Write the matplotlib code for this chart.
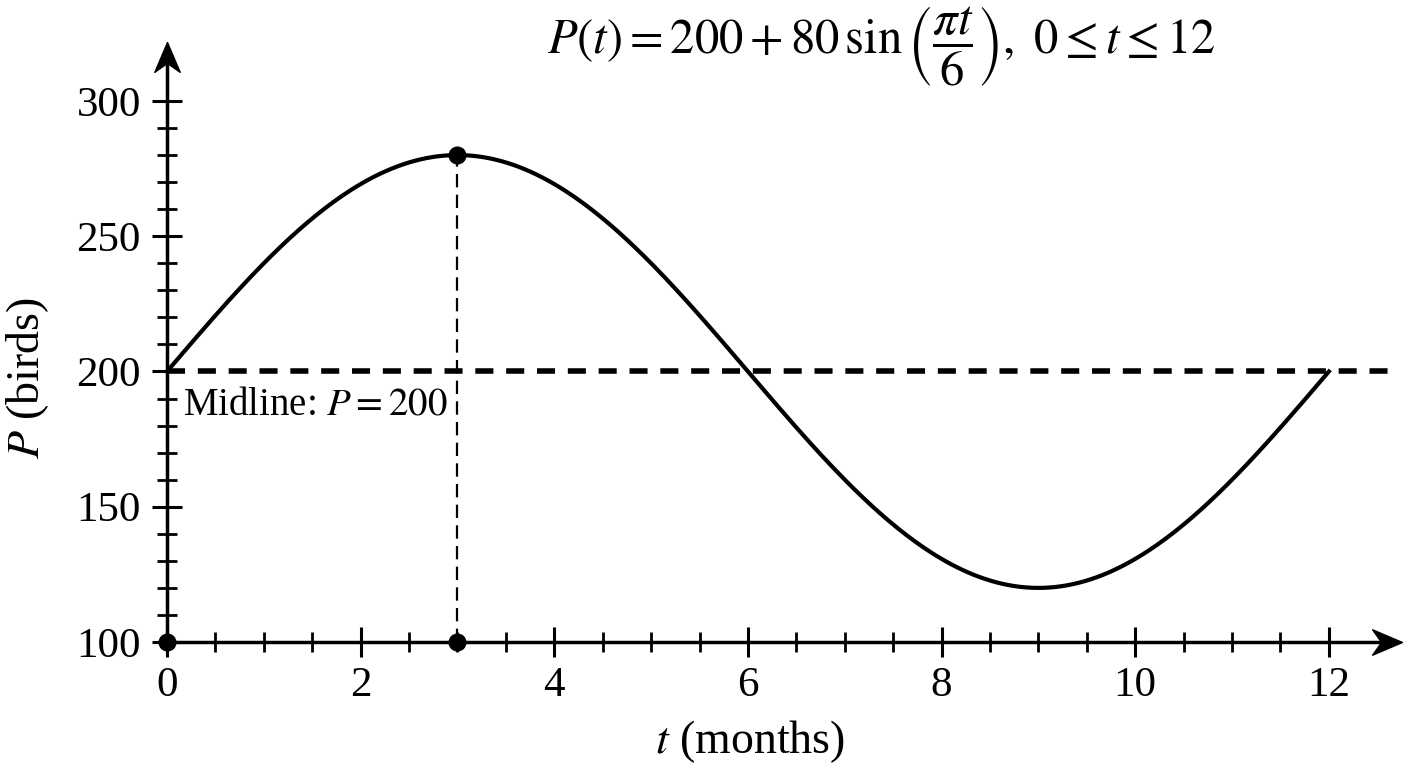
import numpy as np
import matplotlib
matplotlib.use("Agg")
import matplotlib.pyplot as plt
from matplotlib.path import Path
from matplotlib.ticker import FixedLocator

# values (from the equation in its title)
midline = 200
amplitude = 80
period = 12
t_start, t_end = 0, 12
x_ticks = [0, 2, 4, 6, 8, 10, 12]
y_ticks = [100, 150, 200, 250, 300]
# marked points: origin, foot of the peak, and the peak
peak_t = 3
marked_t = [0, peak_t, peak_t]
marked_p = [100, 100, midline + amplitude]

plt.rcParams['font.family'] = ['Liberation Serif', 'DejaVu Serif']
plt.rcParams['mathtext.fontset'] = 'stix'

x_max, y_max = 12.755, 321.8

fig = plt.figure(figsize=(14.08, 7.68), dpi=100)
ax = fig.add_axes([167 / 1408, 1 - 642 / 768, (1402 - 167) / 1408, (642 - 42) / 768])
ax.set_xlim(0, x_max)
ax.set_ylim(100, y_max)

for s in ax.spines.values():
    s.set_visible(False)

# axis lines with stealth-like heads (tip sits on the data point)
head_right = Path([(0, 0), (-2, 0.85), (-1.4, 0), (-2, -0.85), (0, 0)])
head_up = Path([(0, 0), (-0.85, -2), (0, -1.4), (0.85, -2), (0, 0)])
ax.plot([0, x_max - 0.15], [100, 100], color='k', lw=2.5, clip_on=False, solid_capstyle='butt')
ax.plot([0, 0], [100, y_max - 5.5], color='k', lw=2.5, clip_on=False, solid_capstyle='butt')
ax.plot([x_max], [100], marker=head_right, ms=43, color='k', clip_on=False)
ax.plot([0], [y_max], marker=head_up, ms=43, color='k', clip_on=False)

ax.set_xticks(x_ticks)
ax.set_yticks(y_ticks)
ax.xaxis.set_minor_locator(FixedLocator([v / 2 for v in range(1, 24) if v % 4]))
ax.yaxis.set_minor_locator(FixedLocator([v for v in range(110, 300, 10) if v % 50]))
ax.tick_params(which='major', direction='inout', length=21.6, width=2.2, labelsize=31)
ax.tick_params(axis='x', which='major', pad=7)
ax.tick_params(axis='y', which='major', pad=8)
ax.tick_params(which='minor', direction='inout', length=15, width=2.0)

t = np.linspace(t_start, t_end, 400)
p = midline + amplitude * np.sin(2 * np.pi * t / period)
ax.plot(t, p, color='k', lw=3, clip_on=False, zorder=3)

# midline
ax.plot([0, 12.63], [midline, midline], color='k', lw=4, dashes=(3.25, 2.3), clip_on=False)
ax.text(0.165, 187.6, 'Midline: $P = 200$', fontsize=28, ha='left', va='center')

# drop line from the peak
ax.plot([peak_t, peak_t], [100, midline + amplitude], color='k', lw=1.6, dashes=(6, 3.3))
ax.plot(marked_t, marked_p, 'o', color='k', ms=12, clip_on=False, zorder=4)

fig.text(750 / 1408, 1 - 742 / 768, '$t$ (months)', fontsize=33, ha='center', va='center')
fig.text(28 / 1408, 1 - 378 / 768, '$P$ (birds)', fontsize=33, ha='center', va='center',
         rotation=90)
fig.text(881 / 1408, 1 - 47 / 768,
         r'$P(t) = 200 + 80\,\sin\left(\dfrac{\pi t}{6}\right),\ 0 \leq t \leq 12$',
         fontsize=35, ha='center', va='center')

fig.savefig('out.png', dpi=100)
